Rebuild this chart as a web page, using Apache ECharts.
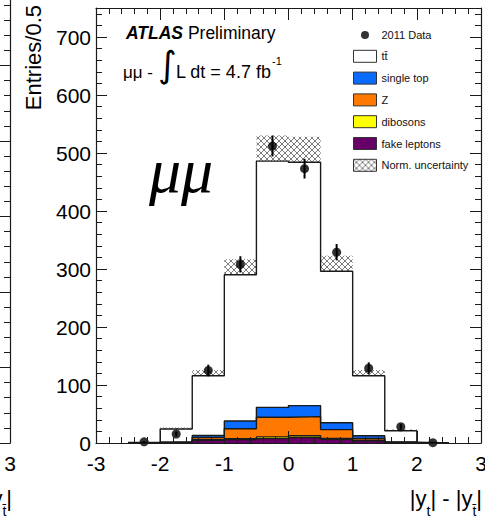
<!DOCTYPE html>
<html>
<head>
<meta charset="utf-8">
<style>
  html, body { margin: 0; padding: 0; background: #fff; }
  #chart { width: 485px; height: 520px; }
</style>
<script src="https://cdn.jsdelivr.net/npm/echarts@6/dist/echarts.min.js"></script>
</head>
<body>
<div id="chart"></div>
<script>
// |y_t| - |y_tbar| bins, width 0.5
var binLow = [-2.5, -2, -1.5, -1, -0.5, 0, 0.5, 1, 1.5, 2];
var binHigh = [-2, -1.5, -1, -0.5, 0, 0.5, 1, 1.5, 2, 2.5];
var binCenter = [-2.25, -1.75, -1.25, -0.75, -0.25, 0.25, 0.75, 1.25, 1.75, 2.25];

// expectation per process (stack order bottom -> top)
var fakeLeptons = [0, 0.5, 4.5, 6, 7.5, 9.5, 6.5, 4, 0.5, 0];
var dibosons = [0, 0.2, 1, 1.5, 3, 3, 1.5, 1, 0.2, 0];
var zJets = [0, 0.5, 4, 17, 34, 33, 15, 3, 0.5, 0];
var singleTop = [0, 0.5, 3.5, 13.5, 17, 19, 12, 4.5, 0.5, 0];
var ttbar = [1, 22.5, 103, 252, 424.5, 419.5, 261, 103.5, 19.5, 0.7];
var normUnc = [0.5, 2.5, 10, 27, 44, 44, 27, 10, 2, 0.5];

// 2011 data
var dataValues = [2, 15.5, 125, 308, 512, 473, 329, 129, 28, 0.5];
var dataErrors = [1.4, 4, 10, 14, 18, 17, 14, 10, 5, 0.7];

var FONT = "Liberation Sans";
var INK = "#1a1a1a";

function addUp(a, b) {
  return a.map(function (v, i) { return v + b[i]; });
}
var cumFake = fakeLeptons.slice();
var cumDiboson = addUp(cumFake, dibosons);
var cumZ = addUp(cumDiboson, zJets);
var cumSingleTop = addUp(cumZ, singleTop);
var cumTotal = addUp(cumSingleTop, ttbar);

function stepPoints(values) {
  var pts = values.map(function (v, i) { return [binLow[i], v]; });
  pts.push([binHigh[binHigh.length - 1], values[values.length - 1]]);
  return pts;
}

// cross hatch used by the normalisation band
var hatch = document.createElement("canvas");
hatch.width = 6;
hatch.height = 6;
var hc = hatch.getContext("2d");
hc.strokeStyle = "#7c7c7c";
hc.lineWidth = 1;
hc.beginPath();
hc.moveTo(0, 0); hc.lineTo(6, 6);
hc.moveTo(6, 0); hc.lineTo(0, 6);
hc.stroke();
var hatchFill = { image: hatch.toDataURL(), repeat: "repeat", imageWidth: 6, imageHeight: 6 };

function layer(name, values, color) {
  return {
    name: name,
    type: "line",
    step: "end",
    data: stepPoints(values),
    symbol: "none",
    showSymbol: false,
    silent: true,
    lineStyle: { color: INK, width: 1.4 },
    itemStyle: { color: color },
    areaStyle: { color: color, opacity: 1 }
  };
}

var tickFont = { fontFamily: FONT, fontSize: 21, color: "#000" };

function xAx(grid, pos, labels) {
  return {
    type: "value", gridIndex: grid, position: pos, min: -3, max: 3, interval: 1, z: 10,
    axisLine: { show: true, onZero: false, lineStyle: { color: INK, width: 1.2 } },
    axisTick: { show: true, inside: true, length: 12, lineStyle: { color: INK, width: 1 } },
    minorTick: { show: true, splitNumber: 5, length: 6, lineStyle: { color: INK, width: 1 } },
    axisLabel: labels ? Object.assign({ show: true, margin: 10 }, tickFont) : { show: false },
    splitLine: { show: false }
  };
}
function yAx(grid, pos, interval, tickLen, labels, max, line) {
  return {
    type: "value", gridIndex: grid, position: pos, min: 0, max: max, interval: interval, z: 10,
    axisLine: { show: line, onZero: false, lineStyle: { color: INK, width: 1.2 } },
    axisTick: { show: true, inside: true, length: tickLen, lineStyle: { color: INK, width: 1 } },
    axisLabel: labels ? Object.assign({ show: true, margin: 5, showMaxLabel: false }, tickFont) : { show: false },
    splitLine: { show: false }
  };
}

var xTitle = "{n||y}{s|t}{n|| - |y}{s|t\u0304}{n||}";
var xTitleRich = {
  n: { fontFamily: FONT, fontSize: 22, color: "#000" },
  s: { fontFamily: FONT, fontSize: 14, color: "#000", padding: [26, 0, 0, 0] }
};

var chart = echarts.init(document.getElementById("chart"), null, { renderer: "svg" });
chart.setOption({
  animation: false,
  backgroundColor: "#fff",
  grid: [
    { left: 96, right: 4, top: 8, bottom: 77, outerBoundsMode: "none", containLabel: false },
    { left: -400, width: 410, top: -10, bottom: 77, outerBoundsMode: "none", containLabel: false }
  ],
  xAxis: [
    xAx(0, "bottom", true),
    xAx(0, "top", false),
    xAx(1, "bottom", true)
  ],
  yAxis: [
    yAx(0, "left", 100, 11, true, 750, true),
    yAx(0, "left", 20, 6, false, 750, false),
    yAx(0, "right", 100, 11, false, 750, true),
    yAx(0, "right", 20, 6, false, 750, false),
    Object.assign(yAx(1, "right", 100, 11, false, 600, true), {
      minorTick: { show: true, splitNumber: 5, length: 6, lineStyle: { color: INK, width: 1 } }
    })
  ],
  legend: {
    orient: "vertical",
    left: 348,
    top: 24,
    itemWidth: 23,
    itemHeight: 12,
    itemGap: 8.8,
    selectedMode: false,
    textStyle: { fontFamily: FONT, fontSize: 11, color: "#111", lineHeight: 12 },
    itemStyle: { borderColor: "#333", borderWidth: 1 },
    data: [
      { name: "2011 Data", icon: "path://M0 0M23 12M15.5 6A4 4 0 1 1 7.5 6A4 4 0 1 1 15.5 6Z",
        itemStyle: { color: "#000", borderWidth: 0 } },
      { name: "tt\u0304", icon: "rect", itemStyle: { color: "#fff" } },
      { name: "single top", icon: "rect", itemStyle: { color: "#0a6cff" } },
      { name: "Z", icon: "rect", itemStyle: { color: "#ff7800" } },
      { name: "dibosons", icon: "rect", itemStyle: { color: "#ffff00" } },
      { name: "fake leptons", icon: "rect", itemStyle: { color: "#660066" } },
      { name: "Norm. uncertainty", icon: "rect", itemStyle: { color: hatchFill } }
    ]
  },
  graphic: [
    { type: "text", x: 44, y: 5, rotation: Math.PI / 2,
      style: { text: "Entries/0.5", fontFamily: FONT, fontSize: 22, fill: "#000",
        align: "right", textAlign: "right", verticalAlign: "bottom", textVerticalAlign: "bottom" } },
    { type: "text", x: 482, y: 498,
      style: { text: xTitle, rich: xTitleRich, fill: "#000",
        align: "right", textAlign: "right", verticalAlign: "middle", textVerticalAlign: "middle" } },
    { type: "text", x: 12, y: 498,
      style: { text: xTitle, rich: xTitleRich, fill: "#000",
        align: "right", textAlign: "right", verticalAlign: "middle", textVerticalAlign: "middle" } },
    { type: "text", x: 126, y: 33,
      style: { text: "{a|ATLAS}{b| Preliminary}", fill: "#000",
        rich: {
          a: { fontFamily: FONT, fontSize: 17.5, fontWeight: "bold", fontStyle: "italic", color: "#000" },
          b: { fontFamily: FONT, fontSize: 17.5, color: "#000" }
        },
        verticalAlign: "middle", textVerticalAlign: "middle" } },
    { type: "text", x: 123, y: 72,
      style: { text: "\u03bc\u03bc -", fontFamily: FONT, fontSize: 17, fill: "#000",
        verticalAlign: "middle", textVerticalAlign: "middle" } },
    { type: "text", x: 158, y: 64,
      style: { text: "\u222b", fontFamily: "DejaVu Sans", fontSize: 36, fill: "#000",
        verticalAlign: "middle", textVerticalAlign: "middle" } },
    { type: "text", x: 176, y: 72,
      style: { text: "L dt = 4.7 fb", fontFamily: FONT, fontSize: 18, fill: "#000",
        verticalAlign: "middle", textVerticalAlign: "middle" } },
    { type: "text", x: 272, y: 61,
      style: { text: "-1", fontFamily: FONT, fontSize: 11, fill: "#000",
        verticalAlign: "middle", textVerticalAlign: "middle" } },
    { type: "text", x: 181, y: 170,
      style: { text: "\u03bc\u03bc", fontFamily: "Liberation Serif", fontStyle: "italic", fontSize: 64, fill: "#000",
        align: "center", textAlign: "center", verticalAlign: "middle", textVerticalAlign: "middle" } }
  ],
  series: [
    layer("tt\u0304", cumTotal, "#ffffff"),
    layer("single top", cumSingleTop, "#0a6cff"),
    layer("Z", cumZ, "#ff7800"),
    layer("dibosons", cumDiboson, "#ffff00"),
    layer("fake leptons", cumFake, "#660066"),
    {
      name: "Norm. uncertainty",
      type: "custom",
      silent: true,
      itemStyle: { color: hatchFill },
      encode: { x: [0, 1], y: [2, 3] },
      data: binLow.map(function (lo, i) {
        return [lo, binHigh[i], cumTotal[i] - normUnc[i], cumTotal[i] + normUnc[i]];
      }),
      renderItem: function (params, api) {
        var a = api.coord([api.value(0), api.value(3)]);
        var b = api.coord([api.value(1), api.value(2)]);
        return {
          type: "rect",
          shape: { x: a[0], y: a[1], width: b[0] - a[0], height: b[1] - a[1] },
          style: { fill: hatchFill, stroke: null }
        };
      }
    },
    {
      name: "errors",
      type: "custom",
      silent: true,
      z: 4,
      encode: { x: 0, y: [1, 2] },
      data: binCenter.map(function (x, i) {
        return [x, Math.max(0, dataValues[i] - dataErrors[i]), dataValues[i] + dataErrors[i]];
      }),
      renderItem: function (params, api) {
        var lo = api.coord([api.value(0), api.value(1)]);
        var hi = api.coord([api.value(0), api.value(2)]);
        return {
          type: "line",
          shape: { x1: lo[0], y1: lo[1], x2: hi[0], y2: hi[1] },
          style: { stroke: "#000", lineWidth: 2 }
        };
      }
    },
    {
      name: "2011 Data",
      type: "scatter",
      silent: true,
      z: 5,
      symbol: "circle",
      symbolSize: 9,
      itemStyle: { color: "#000" },
      data: binCenter.map(function (x, i) { return [x, dataValues[i]]; })
    }
  ]
});
</script>
</body>
</html>
